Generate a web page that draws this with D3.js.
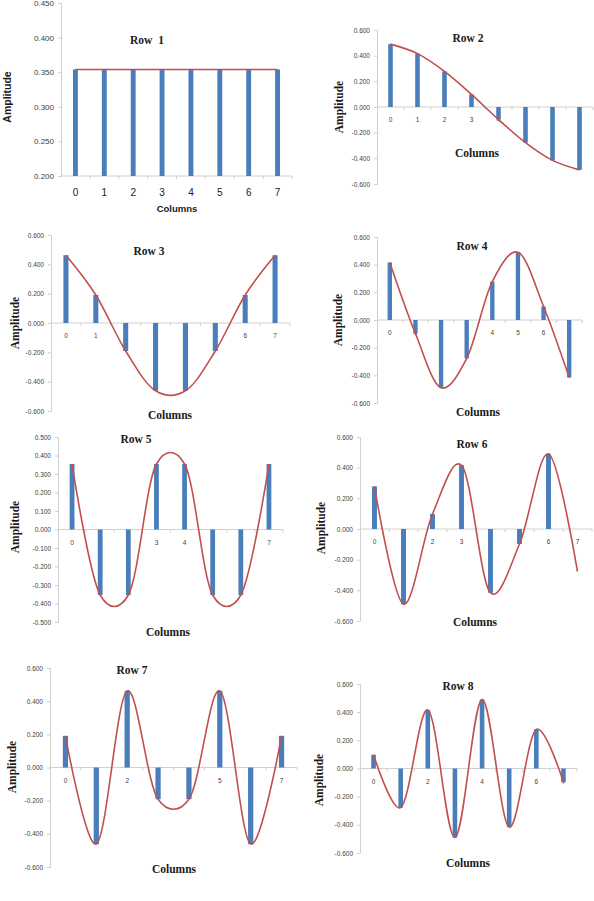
<!DOCTYPE html>
<html>
<head>
<meta charset="utf-8">
<script src="https://cdn.jsdelivr.net/npm/d3@7"></script>
<style>
  body { margin: 0; background: #fff; }
  svg { display: block; }
</style>
</head>
<body>
<svg id="chart" width="594" height="901"></svg>
<script>
// Values, one list per row
const categories = ["0", "1", "2", "3", "4", "5", "6", "7"];
const row1 = [0.354, 0.354, 0.354, 0.354, 0.354, 0.354, 0.354, 0.354];
const row2 = [0.490, 0.416, 0.278, 0.098, -0.098, -0.278, -0.416, -0.490];
const row3 = [0.462, 0.191, -0.191, -0.462, -0.462, -0.191, 0.191, 0.462];
const row4 = [0.416, -0.098, -0.490, -0.278, 0.278, 0.490, 0.098, -0.416];
const row5 = [0.354, -0.354, -0.354, 0.354, 0.354, -0.354, -0.354, 0.354];
const row6 = [0.278, -0.490, 0.098, 0.416, -0.416, -0.098, 0.490, -0.278];
const row7 = [0.191, -0.462, 0.462, -0.191, -0.191, 0.462, -0.462, 0.191];
const row8 = [0.098, -0.278, 0.416, -0.490, 0.490, -0.416, 0.278, -0.098];
const rows = [row1, row2, row3, row4, row5, row6, row7, row8];
const titles = ["Row  1", "Row 2", "Row 3", "Row 4", "Row 5", "Row 6", "Row 7", "Row 8"];

const ticksRow1 = [0.200, 0.250, 0.300, 0.350, 0.400, 0.450];
const ticksRow5 = [-0.5, -0.4, -0.3, -0.2, -0.1, 0, 0.1, 0.2, 0.3, 0.4, 0.5];
const ticksStd = [-0.6, -0.4, -0.2, 0, 0.2, 0.4, 0.6];
const tickSets = [ticksRow1, ticksStd, ticksStd, ticksStd, ticksRow5, ticksStd, ticksStd, ticksStd];

// bars that do not show in the picture (row index -> column indexes)
const hiddenBars = { 5: [7] };

// where each panel sits on the page
const panels = [
  { x0: 61, x1: 292, yTop: 3, yBot: 176, title: [147, 40], cols: [177, 208], amp: [7, 97], sans: true },
  { x0: 377, x1: 593, yTop: 30, yBot: 184, title: [468, 38], cols: [477, 153], amp: [339, 107] },
  { x0: 51, x1: 290, yTop: 235, yBot: 411, title: [149, 251], cols: [170, 415], amp: [15, 323] },
  { x0: 377, x1: 582, yTop: 237, yBot: 403, title: [472, 246], cols: [478, 412], amp: [338, 320] },
  { x0: 58, x1: 283, yTop: 437, yBot: 622, title: [136, 439], cols: [168, 632], amp: [15, 527] },
  { x0: 360, x1: 592, yTop: 437, yBot: 621, title: [472, 444], cols: [475, 622], amp: [321, 528] },
  { x0: 50, x1: 297, yTop: 668, yBot: 867, title: [132, 670], cols: [174, 869], amp: [12, 767] },
  { x0: 360, x1: 577, yTop: 684, yBot: 853, title: [458, 686], cols: [468, 863], amp: [319, 780] }
];

const barColor = "#4a7ebb";
const lineColor = "#c0504d";
const axisColor = "#d0d0d0";
const serif = "'Liberation Serif', 'Times New Roman', serif";
const sans = "'Liberation Sans', Arial, sans-serif";

const svg = d3.select("#chart");

rows.forEach((values, i) => drawPanel(i, values, panels[i]));

function drawPanel(i, values, p) {
  const ticks = tickSets[i];
  const g = svg.append("g");

  let x = d3.scaleBand()
    .domain(categories)
    .range([p.x0, p.x1]);

  let y = d3.scaleLinear()
    .domain(d3.extent(ticks))
    .range([p.yBot, p.yTop]);

  // baseline for the bars: zero, or the axis floor when zero is off the scale
  let base = y.domain()[0] > 0 ? y.domain()[0] : 0;
  let small = p.sans ? 8 : 6.5;

  // y axis
  let yAxis = d3.axisLeft(y)
    .tickValues(ticks)
    .tickSize(3)
    .tickPadding(4)
    .tickFormat(d => d.toFixed(3));
  let ya = g.append("g")
    .attr("transform", `translate(${p.x0},0)`)
    .call(yAxis);
  ya.select(".domain").attr("stroke", axisColor);
  ya.selectAll(".tick line").attr("stroke", axisColor);
  ya.selectAll(".tick text")
    .attr("fill", "#404040")
    .style("font-family", sans)
    .style("font-size", small + "px");

  // x axis line on the baseline with ticks between categories
  g.append("line")
    .attr("x1", p.x0).attr("x2", p.x1)
    .attr("y1", y(base)).attr("y2", y(base))
    .attr("stroke", axisColor);
  g.selectAll("line.xtick")
    .data(d3.range(1, categories.length + 1))
    .enter()
    .append("line")
    .attr("class", "xtick")
    .attr("x1", k => p.x0 + k * x.step())
    .attr("x2", k => p.x0 + k * x.step())
    .attr("y1", y(base))
    .attr("y2", y(base) + 3)
    .attr("stroke", axisColor);

  // category labels
  g.selectAll("text.cat")
    .data(categories)
    .enter()
    .append("text")
    .attr("class", "cat")
    .attr("x", d => x(d) + x.bandwidth() / 2)
    .attr("y", y(base) + (p.sans ? 20 : 15))
    .attr("text-anchor", "middle")
    .attr("fill", p.sans ? "#202020" : "#404040")
    .style("font-family", sans)
    .style("font-size", (p.sans ? 10 : 6.5) + "px")
    .text(d => d);

  // bars
  let hidden = hiddenBars[i] || [];
  let barW = Math.max(4, x.bandwidth() * 0.17);
  g.selectAll("rect.bar")
    .data(values.map((v, k) => ({ v: v, c: categories[k], k: k })).filter(d => hidden.indexOf(d.k) < 0))
    .enter()
    .append("rect")
    .attr("class", "bar")
    .attr("x", d => x(d.c) + x.bandwidth() / 2 - barW / 2)
    .attr("width", barW)
    .attr("y", d => Math.min(y(d.v), y(base)))
    .attr("height", d => Math.abs(y(d.v) - y(base)))
    .attr("fill", barColor);

  // smooth line through the values
  let line = d3.line()
    .x((d, k) => x(categories[k]) + x.bandwidth() / 2)
    .y(d => y(d))
    .curve(d3.curveCatmullRom.alpha(0.15));
  g.append("path")
    .datum(values)
    .attr("d", line)
    .attr("fill", "none")
    .attr("stroke", lineColor)
    .attr("stroke-width", 1.6);

  // texts
  g.append("text")
    .attr("x", p.title[0]).attr("y", p.title[1] + 4)
    .attr("text-anchor", "middle")
    .style("white-space", "pre")
    .style("font-family", serif)
    .style("font-weight", "bold")
    .style("font-size", "11.5px")
    .attr("fill", "#1a1a1a")
    .text(titles[i]);

  g.append("text")
    .attr("x", p.cols[0]).attr("y", p.cols[1] + 4)
    .attr("text-anchor", "middle")
    .style("font-family", p.sans ? sans : serif)
    .style("font-weight", "bold")
    .style("font-size", p.sans ? "9.5px" : "11.5px")
    .attr("fill", "#1a1a1a")
    .text("Columns");

  g.append("text")
    .attr("transform", `translate(${p.amp[0] + 4},${p.amp[1]}) rotate(-90)`)
    .attr("text-anchor", "middle")
    .style("font-family", p.sans ? sans : serif)
    .style("font-weight", "bold")
    .style("font-size", p.sans ? "10.5px" : "11.5px")
    .attr("fill", "#1a1a1a")
    .text("Amplitude");
}
</script>
</body>
</html>
